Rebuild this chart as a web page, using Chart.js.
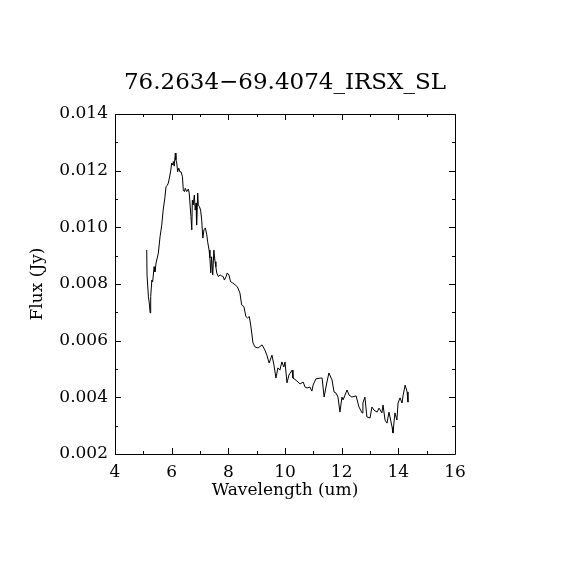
<!DOCTYPE html>
<html lang="en">
<head>
  <meta charset="UTF-8">
  <title>76.2634-69.4074_IRSX_SL</title>
  <script src="https://cdn.jsdelivr.net/npm/chart.js"></script>
  <style>
    html, body {
      margin: 0;
      padding: 0;
      background: #fff;
    }
    #wrap {
      width: 570px;
      height: 570px;
    }
  </style>
</head>
<body>
  <div id="wrap">
    <canvas id="spectrum" width="570" height="570"></canvas>
  </div>
  <script>
    const chartTitle = '76.2634\u221269.4074_IRSX_SL';

    // wavelength (um) and flux (Jy)
    const wavelength = [
      5.12, 5.13, 5.18, 5.21, 5.24, 5.26, 5.30, 5.33, 5.38, 5.41,
      5.45, 5.53, 5.59, 5.65, 5.70, 5.76, 5.80, 5.85, 5.88, 5.92,
      5.97, 6.00, 6.04, 6.06, 6.09, 6.13, 6.15, 6.18, 6.21, 6.25,
      6.29, 6.33, 6.38, 6.41, 6.45, 6.48, 6.53, 6.59, 6.62, 6.68,
      6.71, 6.73, 6.76, 6.80, 6.83, 6.86, 6.88, 6.92, 6.94, 6.98,
      7.02, 7.06, 7.10, 7.14, 7.19, 7.24, 7.27, 7.32, 7.35, 7.38,
      7.41, 7.45, 7.49, 7.53, 7.56, 7.59, 7.65, 7.71, 7.77, 7.82,
      7.86, 7.92, 7.96, 8.02, 8.08, 8.15, 8.24, 8.32, 8.41, 8.47,
      8.55, 8.62, 8.68, 8.74, 8.79, 8.87, 8.94, 9.05, 9.19, 9.29,
      9.36, 9.44, 9.54, 9.61, 9.68, 9.75, 9.82, 9.89, 9.96, 10.00,
      10.07, 10.14, 10.25, 10.28, 10.42, 10.53, 10.64, 10.71, 10.78, 10.88,
      10.95, 10.99, 11.09, 11.24, 11.31, 11.38, 11.48, 11.55, 11.66, 11.73,
      11.80, 11.87, 11.94, 12.01, 12.05, 12.19, 12.26, 12.36, 12.51, 12.61,
      12.72, 12.75, 12.82, 12.89, 13.00, 13.07, 13.14, 13.25, 13.32, 13.42,
      13.46, 13.53, 13.60, 13.67, 13.78, 13.81, 13.88, 13.95, 13.99, 14.06,
      14.13, 14.17, 14.24, 14.31, 14.34
    ];
    const flux = [
      0.00920, 0.00832, 0.00755, 0.00733, 0.00698, 0.00755, 0.00814, 0.00808, 0.00861, 0.00843,
      0.00874, 0.00909, 0.00967, 0.01008, 0.01061, 0.01104, 0.01143, 0.01149, 0.01156, 0.01174,
      0.01202, 0.01227, 0.01220, 0.01232, 0.01216, 0.01262, 0.01238, 0.01227, 0.01196, 0.01209,
      0.01196, 0.01196, 0.01179, 0.01132, 0.01126, 0.01138, 0.01126, 0.01135, 0.01121, 0.01038,
      0.00991, 0.01096, 0.01079, 0.01114, 0.01061, 0.01086, 0.01008, 0.01121, 0.01079, 0.01073,
      0.01061, 0.01026, 0.00962, 0.00991, 0.00998, 0.00973, 0.00949, 0.00920, 0.00892, 0.00839,
      0.00896, 0.00832, 0.00920, 0.00879, 0.00861, 0.00839, 0.00826, 0.00832, 0.00828, 0.00826,
      0.00814, 0.00826, 0.00839, 0.00832, 0.00808, 0.00804, 0.00797, 0.00790, 0.00768, 0.00726,
      0.00720, 0.00685, 0.00680, 0.00685, 0.00655, 0.00592, 0.00578, 0.00574, 0.00585, 0.00567,
      0.00549, 0.00521, 0.00549, 0.00514, 0.00468, 0.00504, 0.00496, 0.00525, 0.00507, 0.00525,
      0.00451, 0.00479, 0.00496, 0.00468, 0.00458, 0.00447, 0.00454, 0.00436, 0.00433, 0.00436,
      0.00422, 0.00443, 0.00465, 0.00468, 0.00468, 0.00401, 0.00454, 0.00486, 0.00461, 0.00419,
      0.00415, 0.00401, 0.00348, 0.00401, 0.00391, 0.00426, 0.00408, 0.00401, 0.00405, 0.00366,
      0.00345, 0.00380, 0.00401, 0.00331, 0.00327, 0.00366, 0.00355, 0.00348, 0.00362, 0.00345,
      0.00373, 0.00320, 0.00309, 0.00348, 0.00295, 0.00274, 0.00345, 0.00320, 0.00380, 0.00398,
      0.00380, 0.00408, 0.00443, 0.00419, 0.00383
    ];

    // axis ranges and tick steps
    const xRange = [4, 16];
    const xMajor = 2;
    const xMinor = 1;
    const yRange = [0.002, 0.014];
    const yMajor = 0.002;
    const yMinor = 0.001;

    const points = wavelength.map((w, i) => ({ x: w, y: flux[i] }));

    // frame round the plot with inward tick marks on all four sides
    const framePlugin = {
      id: 'frame',
      afterDatasetsDraw(chart) {
        const { ctx, chartArea: a, scales } = chart;
        const x = scales.x, y = scales.y;
        ctx.save();
        ctx.strokeStyle = '#000';
        ctx.lineWidth = 1;
        ctx.beginPath();
        ctx.rect(Math.round(a.left) + 0.5, Math.round(a.top) + 0.5,
                 Math.round(a.right - a.left), Math.round(a.bottom - a.top));
        ctx.stroke();

        ctx.beginPath();
        for (let v = xRange[0]; v <= xRange[1] + 1e-9; v += xMinor) {
          const px = Math.round(x.getPixelForValue(v)) + 0.5;
          const len = Math.abs(v / xMajor - Math.round(v / xMajor)) < 1e-6 ? 6 : 3;
          ctx.moveTo(px, a.bottom); ctx.lineTo(px, a.bottom - len);
          ctx.moveTo(px, a.top); ctx.lineTo(px, a.top + len);
        }
        for (let k = 0; k <= Math.round((yRange[1] - yRange[0]) / yMinor); k++) {
          const v = yRange[0] + k * yMinor;
          const py = Math.round(y.getPixelForValue(v)) + 0.5;
          const len = k % Math.round(yMajor / yMinor) === 0 ? 6 : 3;
          ctx.moveTo(a.left, py); ctx.lineTo(a.left + len, py);
          ctx.moveTo(a.right, py); ctx.lineTo(a.right - len, py);
        }
        ctx.stroke();
        ctx.restore();
      }
    };

    Chart.defaults.font.family = "'DejaVu Serif', 'Liberation Serif', serif";
    Chart.defaults.color = '#000';

    const ctx = document.getElementById('spectrum').getContext('2d');
    new Chart(ctx, {
      type: 'line',
      data: {
        datasets: [{
          data: points,
          borderColor: '#000',
          borderWidth: 1,
          pointRadius: 0,
          tension: 0,
          fill: false
        }]
      },
      options: {
        responsive: false,
        animation: false,
        layout: {
          padding: 0
        },
        scales: {
          x: {
            type: 'linear',
            min: xRange[0],
            max: xRange[1],
            grid: { display: false, drawTicks: false },
            border: { display: false },
            ticks: {
              stepSize: xMajor,
              padding: 8,
              maxRotation: 0,
              font: { size: 17 }
            },
            title: {
              display: true,
              text: 'Wavelength (um)',
              font: { size: 17 },
              padding: { top: 0, bottom: 69 }
            },
            afterFit(scale) { scale.height = 116; }
          },
          y: {
            type: 'linear',
            min: yRange[0],
            max: yRange[1],
            grid: { display: false, drawTicks: false },
            border: { display: false },
            ticks: {
              stepSize: yMajor,
              padding: 7,
              font: { size: 17 },
              callback: v => v.toFixed(3)
            },
            title: {
              display: true,
              text: 'Flux (Jy)',
              font: { size: 17 },
              padding: { top: 27, bottom: 0 }
            },
            afterFit(scale) { scale.width = 115; }
          },
          // empty right-hand axis, only keeps the right margin
          yRight: {
            type: 'linear',
            position: 'right',
            min: yRange[0],
            max: yRange[1],
            grid: { display: false, drawTicks: false },
            border: { display: false },
            ticks: { display: false },
            afterFit(scale) { scale.width = 115; }
          }
        },
        plugins: {
          legend: { display: false },
          tooltip: { enabled: false },
          title: {
            display: true,
            text: chartTitle,
            font: { size: 23, weight: 'normal' },
            padding: { top: 69, bottom: 17.4 }
          }
        }
      },
      plugins: [framePlugin]
    });
  </script>
</body>
</html>
